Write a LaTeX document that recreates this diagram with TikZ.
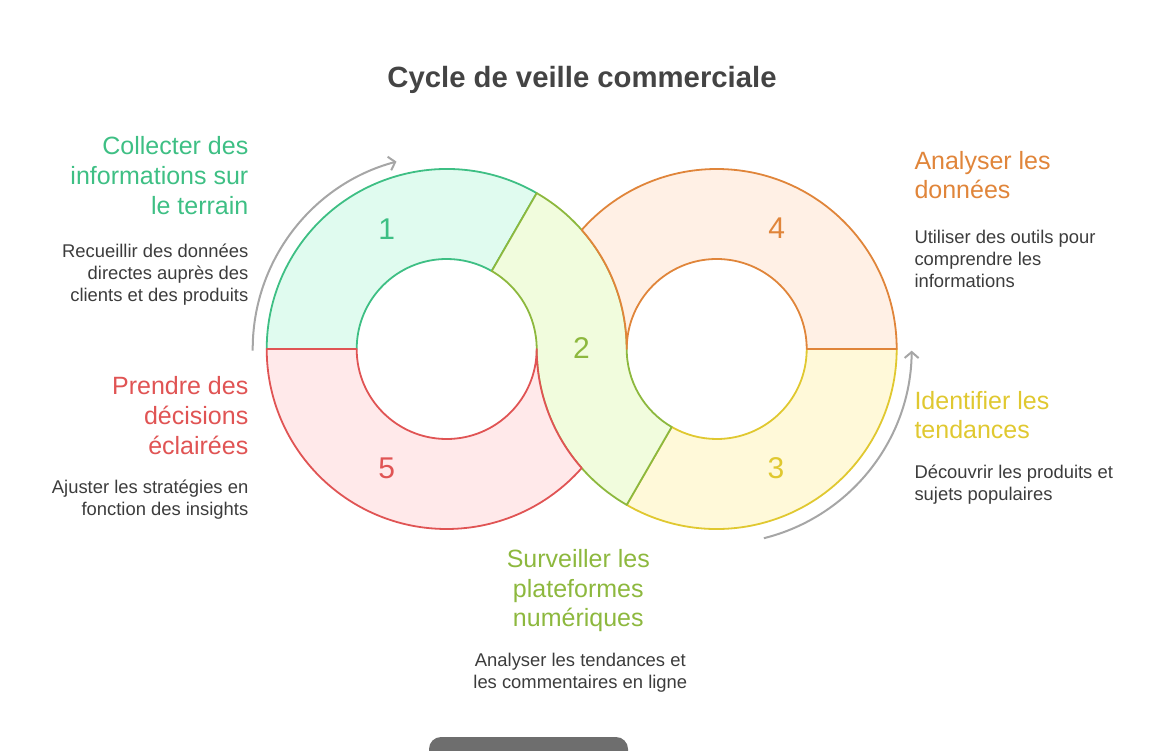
\documentclass[tikz,border=0pt]{standalone}
\usepackage{fontspec}
\setmainfont{Liberation Sans}
\usetikzlibrary{arrows.meta,calc}
\definecolor{gA}{HTML}{3EBF84}
\definecolor{gAf}{HTML}{E0FBEF}
\definecolor{gB}{HTML}{8DB83E}
\definecolor{gBf}{HTML}{F1FCDD}
\definecolor{gC}{HTML}{E0C830}
\definecolor{gCf}{HTML}{FFF9D9}
\definecolor{gD}{HTML}{E0853A}
\definecolor{gDf}{HTML}{FFF0E5}
\definecolor{gE}{HTML}{E05454}
\definecolor{gEf}{HTML}{FFE9EA}
\definecolor{descgray}{HTML}{3C3C3C}
\definecolor{titlegray}{HTML}{444444}
\definecolor{arrowgray}{HTML}{A6A6A6}
\definecolor{btngray}{HTML}{6E6E6E}
\begin{document}
\begin{tikzpicture}[x=1pt,y=1pt,
  seg/.style={line width=1.8pt,line join=round},
  segA/.style={seg,draw=gA,fill=gAf},
  segB/.style={seg,draw=gB,fill=gBf},
  segC/.style={seg,draw=gC,fill=gCf},
  segD/.style={seg,draw=gD,fill=gDf},
  segE/.style={seg,draw=gE,fill=gEf},
  cyclearrow/.style={draw=arrowgray,line width=2pt,-{Straight Barb[length=6pt,width=14pt,line width=2pt]}},
  head/.style={font=\fontsize{25}{30}\selectfont,inner sep=0pt},
  desc/.style={font=\fontsize{18.4}{22}\selectfont,text=descgray,inner sep=0pt},
  num/.style={font=\fontsize{30}{36}\selectfont,inner sep=0pt},
]
\useasboundingbox (0,0) rectangle (1164,750);
\coordinate (L) at (446.7,401);
\coordinate (R) at (716.7,401);

% segment 1
\path[segA] ($(L)+(60:180)$) arc[start angle=60,end angle=180,radius=180]
  -- ($(L)+(180:90)$) arc[start angle=180,end angle=60,radius=90] -- cycle;
% segment 3
\path[segC] ($(R)+(240:180)$) arc[start angle=240,end angle=360,radius=180]
  -- ($(R)+(0:90)$) arc[start angle=360,end angle=240,radius=90] -- cycle;
% segment 2
\path[segB] ($(L)+(60:180)$) arc[start angle=60,end angle=0,radius=180]
  arc[start angle=180,end angle=240,radius=90]
  -- ($(R)+(240:180)$) arc[start angle=240,end angle=180,radius=180]
  arc[start angle=0,end angle=60,radius=90] -- cycle;
% segment 5
\path[segE] ($(L)+(180:180)$) arc[start angle=180,end angle=318.5904,radius=180]
  arc[start angle=221.4096,end angle=180,radius=180]
  arc[start angle=0,end angle=-180,radius=90] -- cycle;
% segment 4
\path[segD] ($(R)+(0:180)$) arc[start angle=0,end angle=138.5904,radius=180]
  arc[start angle=41.4096,end angle=0,radius=180]
  arc[start angle=180,end angle=0,radius=90] -- cycle;

% numbers
\node[num,text=gA] (n1) at (386.7,521) {1};
\node[num,text=gB] (n2) at (581.5,402) {2};
\node[num,text=gC] (n3) at (776,282) {3};
\node[num,text=gD] (n4) at (776.7,522) {4};
\node[num,text=gE] (n5) at (386.7,282) {5};

% cycle arrows
\draw[cyclearrow] ($(L)+(180.5:194)$) arc[start angle=180.5,end angle=105,radius=194];
\draw[cyclearrow] ($(R)+(-76:195)$) arc[start angle=-76,end angle=-0.5,radius=195];

% title
\node[font=\fontsize{29.3}{34}\selectfont\bfseries,text=titlegray,inner sep=0pt,anchor=base] (title) at (582,662.7) {Cycle de veille commerciale};

% step 1 (top left)
\node[head,text=gA,anchor=base east] (h1a) at (248.5,595) {Collecter des};
\node[head,text=gA,anchor=base east] (h1b) at (248.5,565.3) {informations sur};
\node[head,text=gA,anchor=base east] (h1c) at (248.5,535.6) {le terrain};
\node[desc,anchor=base east] (d1a) at (248.5,492.7) {Recueillir des données};
\node[desc,anchor=base east] (d1b) at (248.5,470.5) {directes auprès des};
\node[desc,anchor=base east] (d1c) at (248.5,448.3) {clients et des produits};

% step 5 (bottom left)
\node[head,text=gE,anchor=base east] (h5a) at (248.5,355) {Prendre des};
\node[head,text=gE,anchor=base east] (h5b) at (248.5,325.3) {décisions};
\node[head,text=gE,anchor=base east] (h5c) at (248.5,295.6) {éclairées};
\node[desc,anchor=base east] (d5a) at (248.5,256.7) {Ajuster les stratégies en};
\node[desc,anchor=base east] (d5b) at (248.5,234.5) {fonction des insights};

% step 4 (top right)
\node[head,text=gD,anchor=base west] (h4a) at (914.3,580.7) {Analyser les};
\node[head,text=gD,anchor=base west] (h4b) at (914.3,551) {données};
\node[desc,anchor=base west] (d4a) at (914.3,506.7) {Utiliser des outils pour};
\node[desc,anchor=base west] (d4b) at (914.3,484.5) {comprendre les};
\node[desc,anchor=base west] (d4c) at (914.3,462.3) {informations};

% step 3 (bottom right)
\node[head,text=gC,anchor=base west] (h3a) at (914.3,340.7) {Identifier les};
\node[head,text=gC,anchor=base west] (h3b) at (914.3,311) {tendances};
\node[desc,anchor=base west] (d3a) at (914.3,271.7) {Découvrir les produits et};
\node[desc,anchor=base west] (d3b) at (914.3,249.5) {sujets populaires};

% step 2 (bottom)
\node[head,text=gB,anchor=base] (h2a) at (578.3,182.7) {Surveiller les};
\node[head,text=gB,anchor=base] (h2b) at (578.3,153) {plateformes};
\node[head,text=gB,anchor=base] (h2c) at (578.3,123.3) {numériques};
\node[desc,anchor=base] (d2a) at (580.3,83.5) {Analyser les tendances et};
\node[desc,anchor=base] (d2b) at (580.3,61.5) {les commentaires en ligne};

% partially visible button at the bottom edge
\fill[btngray,rounded corners=12pt] (429,-30) rectangle (628,13);
\end{tikzpicture}
\end{document}
